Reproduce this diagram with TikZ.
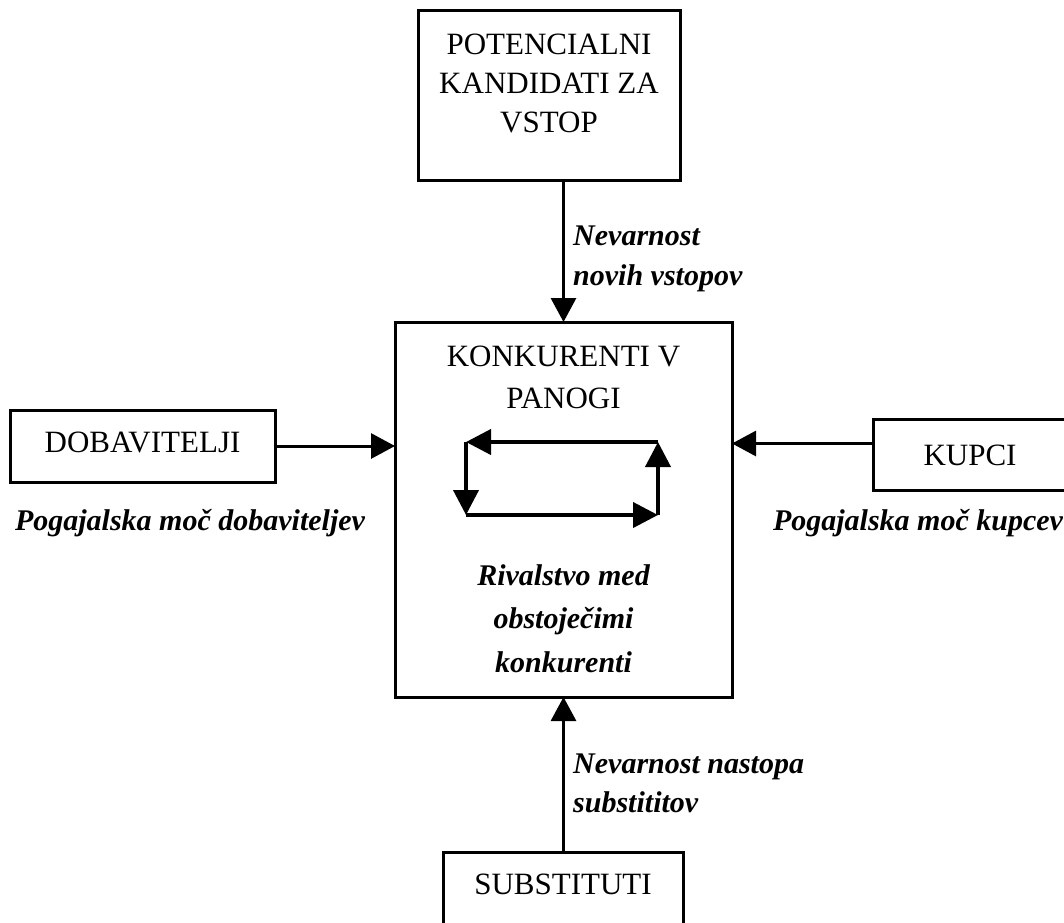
\documentclass[tikz,border=0pt]{standalone}
\usepackage{fontspec}
\setmainfont{Liberation Serif}
\usetikzlibrary{arrows.meta}
\begin{document}
\begin{tikzpicture}[x=1pt,y=-1pt,
  box/.style={draw,line width=3pt,inner sep=0pt,outer sep=0pt},
  arr/.style={line width=3pt,-{Triangle[length=24pt,width=25pt]}},
  cyc/.style={line width=4pt,-{Triangle[length=25pt,width=25pt]}},
  lbl/.style={font=\fontsize{31}{40}\selectfont, anchor=base, inner sep=0pt},
  itl/.style={font=\fontsize{30}{40}\selectfont\bfseries\itshape, anchor=base, inner sep=0pt},
  itw/.style={itl, anchor=base west}]
\useasboundingbox (0,0) rectangle (1064,922);
% boxes
\node[box, minimum width=262pt, minimum height=170pt] (top) at (549,95) {};
\node[box, minimum width=337pt, minimum height=375pt] (main) at (563.5,509.5) {};
\node[box, minimum width=265pt, minimum height=72pt] (dob) at (142.5,446) {};
\node[box, minimum width=217pt, minimum height=71pt] (kup) at (981.5,454.5) {};
\node[box, minimum width=240pt, minimum height=108pt] (sub) at (563,906) {};
% arrows
\draw[arr] (top.south -| main.north) -- (main.north);
\draw[arr] (dob.east) -- (dob.east -| main.west);
\coordinate (kin) at ([yshift=11pt]kup.west);
\coordinate (kout) at (kin -| main.east);
\draw[arr] (kin) -- (kout);
\draw[arr] (sub.north -| main.south) -- (main.south);
% cycle
\coordinate (c1) at (466,442);
\coordinate (c2) at (658,442);
\coordinate (c3) at (658,515);
\coordinate (c4) at (466,515);
\draw[cyc] (c2) -- (c1);
\draw[cyc] (c1) -- (c4);
\draw[cyc] (c4) -- (c3);
\draw[cyc] (c3) -- (c2);
% texts
\node[lbl] (t1) at (549,54) {POTENCIALNI};
\node[lbl] (t2) at (549,93) {KANDIDATI ZA};
\node[lbl] (t3) at (549,132) {VSTOP};
\node[lbl] (k1) at (563.5,366) {KONKURENTI V};
\node[lbl] (k2) at (563.5,408) {PANOGI};
\node[lbl] (d1) at (142.5,452) {DOBAVITELJI};
\node[lbl] (u1) at (970,465) {KUPCI};
\node[lbl] (s1) at (563,894) {SUBSTITUTI};
\node[itw] (n1) at (573,245) {Nevarnost};
\node[itw] (n2) at (573,285) {novih vstopov};
\node[itw] (n3) at (573,773) {Nevarnost nastopa};
\node[itw] (n4) at (573,812) {substititov};
\node[itl] (p1) at (190,530) {Pogajalska moč dobaviteljev};
\node[itl] (p2) at (918,530) {Pogajalska moč kupcev};
\node[itl] (r1) at (563.5,585) {Rivalstvo med};
\node[itl] (r2) at (563.5,628) {obstoječimi};
\node[itl] (r3) at (563.5,672) {konkurenti};
\end{tikzpicture}
\end{document}
